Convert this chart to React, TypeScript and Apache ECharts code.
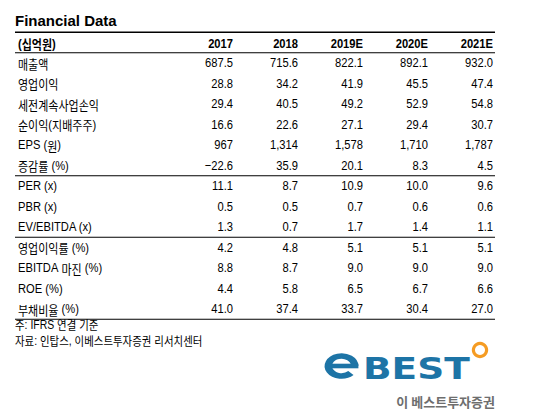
import React, { useEffect, useRef } from "react";
import * as echarts from "echarts";

const title = "Financial Data";
const unitLabel = "(십억원)";
const years = ["2017", "2018", "2019E", "2020E", "2021E"];
const rowLabels = [
  "매출액",
  "영업이익",
  "세전계속사업손익",
  "순이익(지배주주)",
  "EPS (원)",
  "증감률 (%)",
  "PER (x)",
  "PBR (x)",
  "EV/EBITDA (x)",
  "영업이익률 (%)",
  "EBITDA 마진 (%)",
  "ROE (%)",
  "부채비율 (%)",
];
const revenue = [687.5, 715.6, 822.1, 892.1, 932.0];
const operatingProfit = [28.8, 34.2, 41.9, 45.5, 47.4];
const pretaxProfit = [29.4, 40.5, 49.2, 52.9, 54.8];
const netProfit = [16.6, 22.6, 27.1, 29.4, 30.7];
const eps = [967, 1314, 1578, 1710, 1787];
const epsGrowth = [-22.6, 35.9, 20.1, 8.3, 4.5];
const per = [11.1, 8.7, 10.9, 10.0, 9.6];
const pbr = [0.5, 0.5, 0.7, 0.6, 0.6];
const evEbitda = [1.3, 0.7, 1.7, 1.4, 1.1];
const opMargin = [4.2, 4.8, 5.1, 5.1, 5.1];
const ebitdaMargin = [8.8, 8.7, 9.0, 9.0, 9.0];
const roe = [4.4, 5.8, 6.5, 6.7, 6.6];
const debtRatio = [41.0, 37.4, 33.7, 30.4, 27.0];
const rowValues = [
  revenue, operatingProfit, pretaxProfit, netProfit, eps, epsGrowth,
  per, pbr, evEbitda, opMargin, ebitdaMargin, roe, debtRatio,
];
const rowDecimals = [1, 1, 1, 1, 0, 1, 1, 1, 1, 1, 1, 1, 1];
// rules are drawn below these row indices (row 0 = header, -1 = top rule)
const ruleAfterRows = [-1, 0, 6, 9, 13];
const notes = ["주: IFRS 연결 기준", "자료: 인탑스, 이베스트투자증권 리서치센터"];
const logoWord = "BEST";
const logoSub = "이 베스트투자증권";

const FONT = "'Liberation Sans', Arial, 'Noto Sans CJK KR', sans-serif";
const KFONT = "'Noto Sans CJK KR', 'Liberation Sans', sans-serif";

function fmt(v: number, d: number): string {
  const a = Math.abs(v);
  let s = d === 0 ? String(Math.round(a)).replace(/\B(?=(\d{3})+(?!\d))/g, ",") : a.toFixed(d);
  return v < 0 ? "\u2212" + s : s;
}

function toRich(s: string): string {
  return s.replace(/([\uAC00-\uD7A3]+)/g, "{h|$1}");
}

type Cell = { col: number; row: number; text: string; bold: boolean };
const cells: Cell[] = [];
cells.push({ col: 0, row: 0, text: unitLabel, bold: true });
years.forEach((y, i) => cells.push({ col: i + 1, row: 0, text: y, bold: true }));
rowLabels.forEach((lab, r) => {
  cells.push({ col: 0, row: r + 1, text: lab, bold: false });
  rowValues[r].forEach((v, i) =>
    cells.push({ col: i + 1, row: r + 1, text: fmt(v, rowDecimals[r]), bold: false })
  );
});

function richText(s: string, size: number, hsize: number, bold: boolean, fill: string, extra: any = {}) {
  return {
    text: toRich(s),
    fontSize: size,
    fontFamily: FONT,
    fontWeight: bold ? "bold" : "normal",
    fill,
    rich: {
      h: { fontSize: hsize, fontFamily: KFONT, fontWeight: bold ? "bold" : "normal", fill },
    },
    ...extra,
  };
}

export default function App() {
  const ref = useRef<HTMLDivElement>(null);
  useEffect(() => {
    if (!ref.current) return;
    const chart = echarts.init(ref.current, undefined, { renderer: "svg" });
    const option: any = {
      animation: false,
      backgroundColor: "#ffffff",
      grid: { left: 15, right: 50, top: 32.25, height: 287 },
      xAxis: { type: "value", min: -2.354, max: 5.031, show: false },
      yAxis: { type: "value", inverse: true, min: -0.5, max: 13.5, show: false },
      series: [
        {
          type: "custom",
          silent: true,
          clip: false,
          data: cells.map((c) => [c.col, c.row]),
          renderItem: (params: any, api: any) => {
            const cell = cells[params.dataIndex];
            const pt = api.coord([api.value(0), api.value(1)]);
            const isLabel = cell.col === 0;
            const x = isLabel ? params.coordSys.x + 3 : pt[0];
            return {
              type: "text",
              x,
              y: pt[1] + (cell.row === 0 ? 1 : 0),
              scaleX: 0.86,
              style: richText(cell.text, 13, 12.8, cell.bold, "#000000", {
                align: isLabel ? "left" : "right",
                verticalAlign: "middle",
              }),
            };
          },
        },
        {
          type: "custom",
          silent: true,
          clip: false,
          data: ruleAfterRows.map((r) => [0, r + 0.5]),
          renderItem: (params: any, api: any) => {
            const cs = params.coordSys;
            const y = api.coord([0, api.value(1)])[1];
            return {
              type: "line",
              shape: { x1: cs.x, y1: y, x2: cs.x + cs.width, y2: y },
              style: { stroke: "#000000", lineWidth: params.dataIndex === 0 ? 1.6 : 1.1 },
            };
          },
        },
      ],
      graphic: [
        {
          type: "text",
          left: 15,
          top: 13,
          style: { text: title, fontSize: 15, fontWeight: "bold", fontFamily: FONT, fill: "#000" },
        },
        ...notes.map((n, i) => ({
          type: "text",
          x: 15,
          y: 325 + i * 16,
          scaleX: 0.87,
          style: richText(n, 12, 12, false, "#000000", { verticalAlign: "middle" }),
        })),
        {
          type: "group",
          x: 341.5,
          y: 366,
          scaleX: 1.32,
          children: [
            {
              type: "arc",
              shape: { cx: 0, cy: 0, r: 10, startAngle: 0.78, endAngle: Math.PI * 2, clockwise: true },
              style: { stroke: "#1d74a6", lineWidth: 5.6, fill: "none", lineCap: "butt" },
            },
            {
              type: "line",
              shape: { x1: -10, y1: 0, x2: 12.8, y2: 0 },
              style: { stroke: "#1d74a6", lineWidth: 4.6 },
            },
          ],
        },
        {
          type: "text",
          x: 363,
          y: 368,
          scaleX: 1.25,
          style: {
            text: logoWord,
            fontSize: 30,
            fontWeight: "bold",
            fontFamily: "'DejaVu Sans', sans-serif",
            fill: "#1d74a6",
            verticalAlign: "middle",
          },
        },
        {
          type: "ring",
          shape: { cx: 480, cy: 350, r: 8.2, r0: 5 },
          style: { fill: "#f59c23" },
        },
        {
          type: "text",
          x: 495,
          y: 401,
          style: {
            text: logoSub,
            fontSize: 13,
            fontWeight: "bold",
            fontFamily: KFONT,
            fill: "#6e6e6e",
            align: "right",
            verticalAlign: "middle",
          },
        },
      ],
    };
    chart.setOption(option);
    return () => chart.dispose();
  }, []);
  return (
    <div
      ref={ref}
      style={{ position: "absolute", left: 0, top: 0, width: 545, height: 418, background: "#fff" }}
    />
  );
}
